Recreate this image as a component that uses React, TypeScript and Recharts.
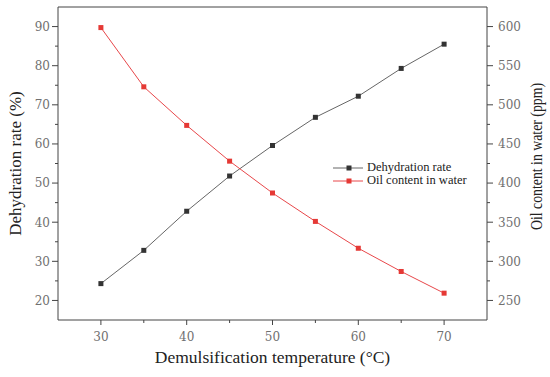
import { Legend, Line, LineChart, ReferenceLine, XAxis, YAxis } from 'recharts'

const temperature = [30, 35, 40, 45, 50, 55, 60, 65, 70]
const dehydrationRate = [24.3, 32.8, 42.8, 51.8, 59.6, 66.8, 72.2, 79.3, 85.5]
const oilContent = [598.7, 523, 473.7, 428, 387.3, 351, 316.7, 287, 259.3]

const xTicks = [25, 30, 35, 40, 45, 50, 55, 60, 65, 70, 75]
const xLabels = [30, 40, 50, 60, 70]
const leftTicks = [15, 20, 25, 30, 35, 40, 45, 50, 55, 60, 65, 70, 75, 80, 85, 90, 95]
const leftLabels = [20, 30, 40, 50, 60, 70, 80, 90]
const rightTicks = [225, 250, 275, 300, 325, 350, 375, 400, 425, 450, 475, 500, 525, 550, 575, 600, 625]
const rightLabels = [250, 300, 350, 400, 450, 500, 550, 600]

const data = temperature.map((t, i) => ({
  temp: t,
  rate: dehydrationRate[i],
  oil: oilContent[i],
}))

const AXIS = '#444'
const TICK_TEXT = '#707070'
const RED = '#e8474a'
const FONT = '"Liberation Serif", "DejaVu Serif", serif'
const TICK_FONT = '"DejaVu Serif", serif'

function isMinor(v: number, labels: number[], ticks: number[]) {
  return !labels.includes(v) && v !== ticks[0] && v !== ticks[ticks.length - 1]
}

function LeftTick(props: any) {
  const { x, y, payload } = props
  const v = payload.value
  if (leftLabels.includes(v)) {
    return (
      <g>
        <line x1={x - 6} x2={x} y1={y} y2={y} stroke={AXIS} />
        <text x={x - 8} y={y} dy="0.36em" textAnchor="end" fill={TICK_TEXT} fontSize={12} fontFamily={TICK_FONT}>
          {v}
        </text>
      </g>
    )
  }
  if (isMinor(v, leftLabels, leftTicks)) return <line x1={x - 3} x2={x} y1={y} y2={y} stroke={AXIS} />
  return <g />
}

function RightTick(props: any) {
  const { x, y, payload } = props
  const v = payload.value
  if (rightLabels.includes(v)) {
    return (
      <g>
        <line x1={x} x2={x + 6} y1={y} y2={y} stroke={AXIS} />
        <text x={x + 11} y={y} dy="0.36em" textAnchor="start" fill={TICK_TEXT} fontSize={12} fontFamily={TICK_FONT}>
          {v}
        </text>
      </g>
    )
  }
  if (isMinor(v, rightLabels, rightTicks)) return <line x1={x} x2={x + 3} y1={y} y2={y} stroke={AXIS} />
  return <g />
}

function BottomTick(props: any) {
  const { x, y, payload } = props
  const v = payload.value
  if (xLabels.includes(v)) {
    return (
      <g>
        <line x1={x} x2={x} y1={y} y2={y + 5} stroke={AXIS} />
        <text x={x} y={y + 21} textAnchor="middle" fill={TICK_TEXT} fontSize={12} fontFamily={TICK_FONT}>
          {v}
        </text>
      </g>
    )
  }
  if (isMinor(v, xLabels, xTicks)) return <line x1={x} x2={x} y1={y} y2={y + 3} stroke={AXIS} />
  return <g />
}

function RightTitle(props: any) {
  const { x, y, width, height } = props.viewBox
  const cx = x + width - 14
  const cy = y + height / 2 - 7
  return (
    <text
      x={cx}
      y={cy}
      transform={`rotate(-90, ${cx}, ${cy})`}
      textAnchor="middle"
      dy="0.35em"
      fontFamily={FONT}
      fontSize={16}
      textLength={147}
      lengthAdjust="spacingAndGlyphs"
      fill="#222"
    >
      Oil content in water (ppm)
    </text>
  )
}

function squareDot(color: string) {
  return (props: any) => {
    const { cx, cy, index } = props
    return <rect key={`d-${index}`} x={cx - 2.5} y={cy - 2.5} width={5} height={5} fill={color} />
  }
}

const legendItems = [
  { label: 'Dehydration rate', line: '#666', dot: '#333' },
  { label: 'Oil content in water', line: RED, dot: '#e53935' },
]

function LegendContent() {
  return (
    <div style={{ fontFamily: FONT, fontSize: 12.5, color: '#222', lineHeight: '13px' }}>
      {legendItems.map((item) => (
        <div key={item.label} style={{ display: 'flex', alignItems: 'center', height: 13 }}>
          <svg width={31} height={10} style={{ marginRight: 3 }}>
            <line x1={0} x2={30} y1={5} y2={5} stroke={item.line} />
            <rect x={13.5} y={2.5} width={5} height={5} fill={item.dot} />
          </svg>
          <span style={{ whiteSpace: 'nowrap' }}>{item.label}</span>
        </div>
      ))}
    </div>
  )
}

export default function App() {
  return (
    <div style={{ position: 'absolute', left: 0, top: 0, width: 550, height: 377, background: '#fff' }}>
      <LineChart width={550} height={377} data={data} margin={{ top: 7, right: 0, left: 0, bottom: 0 }}>
        <XAxis
          dataKey="temp"
          type="number"
          domain={[25, 75]}
          ticks={xTicks}
          interval={0}
          height={57}
          stroke={AXIS}
          tickLine={false}
          tickSize={0}
          tickMargin={0}
          tick={BottomTick}
          label={{
            value: 'Demulsification temperature (°C)',
            position: 'insideBottom',
            offset: 14,
            style: { fontFamily: FONT, fontSize: 17.5, fill: '#222' },
          }}
        />
        <YAxis
          yAxisId="left"
          type="number"
          domain={[15, 95]}
          ticks={leftTicks}
          interval={0}
          width={58}
          stroke={AXIS}
          tickLine={false}
          tickSize={0}
          tickMargin={0}
          tick={LeftTick}
          label={{
            value: 'Dehydration rate (%)',
            angle: -90,
            position: 'insideLeft',
            offset: 15,
            style: { fontFamily: FONT, fontSize: 17, fill: '#222', textAnchor: 'middle' },
          }}
        />
        <YAxis
          yAxisId="right"
          orientation="right"
          type="number"
          domain={[225, 625]}
          ticks={rightTicks}
          interval={0}
          width={63}
          stroke={AXIS}
          tickLine={false}
          tickSize={0}
          tickMargin={0}
          tick={RightTick}
          label={{ content: RightTitle }}
        />
        <ReferenceLine yAxisId="left" y={95} stroke={AXIS} />
        <Legend
          verticalAlign="middle"
          align="center"
          content={LegendContent}
          wrapperStyle={{ left: 333, top: 161, width: 170, height: 26 }}
        />
        <Line
          yAxisId="left"
          dataKey="rate"
          type="linear"
          stroke="#666"
          strokeWidth={1}
          dot={squareDot('#333')}
          isAnimationActive={false}
        />
        <Line
          yAxisId="right"
          dataKey="oil"
          type="linear"
          stroke={RED}
          strokeWidth={1}
          dot={squareDot('#e53935')}
          isAnimationActive={false}
        />
      </LineChart>
    </div>
  )
}
